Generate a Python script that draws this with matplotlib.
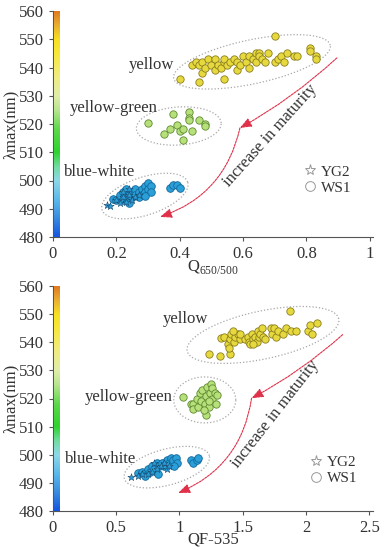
import numpy as np
import matplotlib
matplotlib.use("Agg")
import matplotlib.pyplot as plt
from matplotlib.colors import LinearSegmentedColormap
from matplotlib.lines import Line2D

plt.rcParams['font.family'] = ['Liberation Serif', 'DejaVu Serif']
plt.rcParams['mathtext.fontset'] = 'custom'
plt.rcParams['mathtext.rm'] = 'Liberation Serif'

# ---- panel a: Q650/500 ----
q_yel_x = [0.40, 0.46, 0.54, 0.70, 0.44, 0.45, 0.46, 0.47, 0.47, 0.48, 0.49, 0.50, 0.51, 0.51,
           0.52, 0.53, 0.54, 0.54, 0.55, 0.56, 0.57, 0.58, 0.58, 0.59, 0.60, 0.61, 0.62, 0.62,
           0.63, 0.64, 0.64, 0.65, 0.65, 0.66, 0.67, 0.68, 0.70, 0.71, 0.72, 0.73, 0.74, 0.76,
           0.77, 0.81, 0.81, 0.83, 0.83]
q_yel_y = [536, 535, 536, 551, 541, 542, 541, 538, 542, 540, 543, 541, 539, 543,
           541, 540, 542, 543, 541, 542, 543, 539, 542, 541, 544, 542, 540, 544,
           543, 545, 542, 545, 544, 543, 542, 545, 542, 543, 544, 542, 545, 544,
           544, 547, 546, 544, 543]
q_yg_x = [0.30, 0.35, 0.37, 0.38, 0.39, 0.40, 0.41, 0.41, 0.43, 0.43, 0.43, 0.44, 0.46, 0.48, 0.48]
q_yg_y = [520.4, 516.4, 518.4, 523.5, 519.5, 517.6, 518.4, 514.4, 524.4, 522.3, 521.4, 517.5,
          521.4, 520.0, 519.4]
q_bw_x = [0.19, 0.20, 0.21, 0.22, 0.22, 0.23, 0.23, 0.24, 0.24, 0.25, 0.25, 0.26, 0.26, 0.27,
          0.28, 0.28, 0.29, 0.29, 0.30, 0.30, 0.31, 0.31, 0.37, 0.38, 0.39, 0.40, 0.27, 0.29]
q_bw_y = [493.5, 493, 495, 496, 493, 494, 497, 495, 492, 496, 494, 497, 495, 496,
          497, 495, 498, 496, 499, 497, 498, 496, 497.5, 498.5, 498.5, 497.5, 494, 494.5]
q_star_x = [0.17, 0.18, 0.20, 0.21, 0.22, 0.23, 0.24, 0.25, 0.26, 0.27, 0.24, 0.22]
q_star_y = [491.5, 491, 493, 492, 494, 492.5, 495, 493, 494, 495, 497, 496]

# ---- panel b: QF-535 ----
f_yel_x = [1.23, 1.32, 1.40, 1.87, 1.33, 1.35, 1.38, 1.39, 1.40, 1.41, 1.43, 1.44, 1.46, 1.48,
           1.52, 1.54, 1.55, 1.56, 1.57, 1.58, 1.60, 1.61, 1.62, 1.63, 1.64, 1.65, 1.66, 1.68,
           1.72, 1.73, 1.75, 1.76, 1.78, 1.82, 1.84, 1.88, 1.92, 2.02, 2.03, 2.05, 2.09, 1.48,
           1.58, 1.42]
f_yel_y = [536, 535, 536, 551, 541.5, 542, 539.5, 538, 541, 543, 540, 542, 543, 541,
           541, 542, 540, 539.5, 543, 541, 542, 540, 544, 542, 543, 545, 542, 541,
           545, 543, 545, 542, 544, 543, 545, 544, 544, 544, 546, 543, 547, 543,
           539.5, 544]
f_yg_x = [1.03, 1.09, 1.11, 1.11, 1.14, 1.15, 1.16, 1.17, 1.18, 1.21, 1.20, 1.21, 1.22, 1.23,
          1.24, 1.25, 1.26, 1.26, 1.28, 1.29, 1.30, 1.23, 1.19]
f_yg_y = [520.4, 518, 518.2, 516.4, 520, 517, 522, 519, 523, 514.3, 518, 521, 524, 517,
          522, 525, 520, 523.9, 522, 518, 521.2, 519, 516]
f_bw_x = [0.67, 0.70, 0.72, 0.75, 0.77, 0.78, 0.80, 0.82, 0.84, 0.86, 0.88, 0.90, 0.92, 0.93,
          0.95, 0.97, 0.98, 0.96, 0.73, 0.83, 1.09, 1.11, 1.14, 1.15]
f_bw_y = [493.5, 494, 493, 495, 494, 496, 495, 497, 496, 497, 496, 498, 497, 499,
          498, 499, 497, 496, 492.5, 493, 498, 497, 498, 499]
f_star_x = [0.62, 0.67, 0.70, 0.75, 0.78, 0.82, 0.85, 0.88, 0.90, 0.80, 0.92]
f_star_y = [492, 492.5, 493, 493, 494, 495, 496, 497, 495, 497, 496]

y_ticks = [480, 490, 500, 510, 520, 530, 540, 550, 560]

cb_vals = [480, 487, 493, 500, 505, 510, 518, 525, 530, 537, 545, 550, 555, 560]
cb_cols = ['#1556e0', '#3b8fe0', '#5ab8ea', '#8ed8e8', '#70dca0', '#2ed32e', '#5cd84a',
           '#b8e690', '#e0eea8', '#f0ec80', '#f8e83a', '#f8e020', '#eab030', '#e07a20']
cmap = LinearSegmentedColormap.from_list(
    'lam', [((v - 480) / 80, c) for v, c in zip(cb_vals, cb_cols)])

txt = '#333333'
fig = plt.figure(figsize=(3.85, 5.5), dpi=100)


def dotted_ellipse(ax, cx, cy, w, h, ang):
    # ellipse drawn in pixel space so the shape is not squashed by the data aspect
    x0, y0 = ax.transData.transform((cx, cy))
    t = np.linspace(0, 2 * np.pi, 300)
    a = np.deg2rad(ang)
    ex = w / 2 * np.cos(t)
    ey = h / 2 * np.sin(t)
    px = x0 + ex * np.cos(a) - ey * np.sin(a)
    py = y0 + ex * np.sin(a) + ey * np.cos(a)
    d = ax.transData.inverted().transform(np.column_stack([px, py]))
    ax.plot(d[:, 0], d[:, 1], ls=(0, (1, 1.6)), color='#a8a8a8', lw=0.9, zorder=1)


def panel(rect, xlim, xticks, xticklabels, xlabel, xlab_y, yel, yg, bw, star, ells, arrow,
          labels, mat, leg):
    ax = fig.add_axes(rect)
    ax.set_xlim(*xlim)
    ax.set_ylim(480, 560)
    for s in ['top', 'right']:
        ax.spines[s].set_visible(False)
    for s in ['left', 'bottom']:
        ax.spines[s].set_color('#555555')
        ax.spines[s].set_linewidth(0.8)
    ax.set_yticks(y_ticks)
    ax.set_xticks(xticks)
    ax.set_xticklabels(xticklabels)
    ax.tick_params(labelsize=12, colors='#555555', labelcolor=txt, length=3, width=0.8)
    ax.set_ylabel('λmax(nm)', fontsize=12, color=txt)
    ax.yaxis.set_label_coords(-0.105, 0.5)
    ax.set_xlabel(xlabel, fontsize=12, color=txt)
    ax.xaxis.set_label_coords(0.5, xlab_y)

    # colour strip along the y axis
    cax = fig.add_axes([rect[0] + 0.002, rect[1], 6 / 385, rect[3]])
    cax.imshow(np.linspace(1, 0, 256)[:, None], aspect='auto', cmap=cmap, extent=[0, 1, 0, 1])
    cax.axis('off')

    for e in ells:
        dotted_ellipse(ax, *e)

    ax.scatter(yel[0], yel[1], s=28, c='#e6d93e', edgecolors='#8c7d1e', linewidths=0.6, zorder=3)
    ax.scatter(yg[0], yg[1], s=28, c='#b8e07a', edgecolors='#5d8a30', linewidths=0.6, zorder=3)
    ax.scatter(bw[0], bw[1], s=30, c='#2a9fd8', edgecolors='#13699a', linewidths=0.6, zorder=3)
    ax.scatter(star[0], star[1], s=30, marker='*', c='#2a9fd8', edgecolors='#1a4a70',
               linewidths=0.4, zorder=4)

    red = '#e0304a'
    (sx, sy), (mx, my), (ex, ey) = arrow
    ax.annotate('', xy=(mx, my), xytext=(sx, sy),
                arrowprops=dict(arrowstyle='-|>,head_length=0.7,head_width=0.28', color=red,
                                lw=0.8, ls=(0, (2, 1)), connectionstyle='arc3,rad=-0.06',
                                shrinkA=0, shrinkB=0))
    ax.annotate('', xy=(ex, ey), xytext=(mx, my),
                arrowprops=dict(arrowstyle='-|>,head_length=0.7,head_width=0.28', color=red,
                                lw=0.8, ls=(0, (2, 1)), connectionstyle='arc3,rad=-0.28',
                                shrinkA=0, shrinkB=0))

    for s, x, y in labels:
        ax.text(x, y, s, fontsize=12, color=txt, ha='center', va='center')
    ax.text(mat[0], mat[1], 'increase in maturity', fontsize=12, color=txt,
            rotation=mat[2], ha='center', va='center', rotation_mode='anchor')

    handles = [Line2D([], [], ls='', marker='*', ms=8, mfc='none', mec='#999999', mew=0.7),
               Line2D([], [], ls='', marker='o', ms=7, mfc='none', mec='#999999', mew=0.7)]
    ax.legend(handles, ['YG2', 'WS1'], loc='upper left', bbox_to_anchor=leg, frameon=False,
              fontsize=11, handletextpad=0.2, labelspacing=0.15, handlelength=1.0,
              borderaxespad=0, labelcolor=txt)
    return ax


panel([53 / 385, 1 - 237 / 550, 320 / 385, 226 / 550], (0, 1.01),
      [0, 0.2, 0.4, 0.6, 0.8, 1], ['0', '0.2', '0.4', '0.6', '0.8', '1'],
      r'Q$_{\mathregular{650/500}}$', -0.095,
      (q_yel_x, q_yel_y), (q_yg_x, q_yg_y), (q_bw_x, q_bw_y), (q_star_x, q_star_y),
      [(0.628, 542.0, 160, 44, 12), (0.397, 519.3, 85, 38, 4), (0.29, 494.5, 90, 38, 18)],
      [(0.896, 543.4), (0.59, 518.6), (0.338, 487.1)],
      [('yellow', 0.312, 540.9), ('yellow-green', 0.192, 525.7), ('blue-white', 0.148, 503.0)],
      (0.685, 516.0, 48), (0.76, 0.345))

panel([53 / 385, 1 - 511 / 550, 320 / 385, 225 / 550], (0, 2.53),
      [0, 0.5, 1, 1.5, 2, 2.5], ['0', '0.5', '1', '1.5', '2', '2.5'],
      'QF-535', -0.093,
      (f_yel_x, f_yel_y), (f_yg_x, f_yg_y), (f_bw_x, f_bw_y), (f_star_x, f_star_y),
      [(1.66, 542.6, 155, 48, 12), (1.20, 519.5, 62, 46, 0), (0.90, 495.6, 88, 36, 15)],
      [(2.29, 542.7), (1.57, 520.1), (0.99, 486.4)],
      [('yellow', 1.05, 548.2), ('yellow-green', 0.60, 520.5), ('blue-white', 0.375, 498.5)],
      (1.76, 514.5, 52), (0.78, 0.275))

fig.savefig('out.png', dpi=100)
